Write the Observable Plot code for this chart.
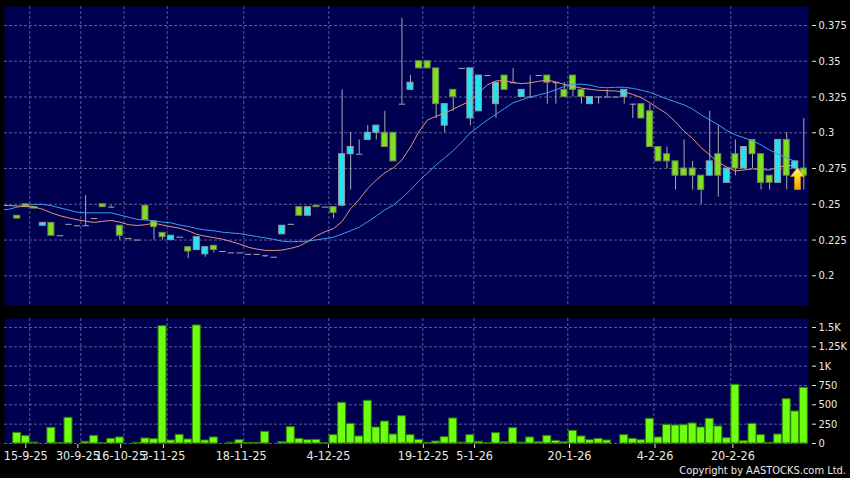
<!DOCTYPE html>
<html><head><meta charset="utf-8">
<script src="https://cdn.jsdelivr.net/npm/d3@7"></script>
<script src="https://cdn.jsdelivr.net/npm/@observablehq/plot@0.6"></script>
<style>
html,body{margin:0;padding:0;background:#000;}
#chart{width:850px;height:478px;position:relative;background:#000;overflow:hidden}
#chart svg{display:block}
#copy{position:absolute;right:4px;top:464px;color:#e8e8e8;font:11px "DejaVu Sans Condensed","DejaVu Sans",sans-serif;white-space:nowrap}
</style></head><body><div id="chart"></div>
<script>
// ---- data (one entry per trading bar) ----
const open  = [0.242,0.250,0.248,0.235,0.237,0.228,0.236,0.235,0.235,0.240,0.250,0.248,0.235,0.226,0.225,0.249,0.238,0.230,0.225,0.227,0.220,0.218,0.215,0.221,0.217,0.216,0.216,0.215,0.215,0.214,0.213,0.229,0.236,0.248,0.242,0.249,0.248,0.248,0.249,0.285,0.285,0.295,0.300,0.300,0.300,0.320,0.330,0.350,0.350,0.345,0.305,0.330,0.345,0.310,0.315,0.340,0.320,0.340,0.335,0.325,0.325,0.340,0.340,0.335,0.330,0.340,0.330,0.320,0.325,0.325,0.325,0.325,0.320,0.320,0.315,0.290,0.285,0.280,0.275,0.275,0.270,0.270,0.285,0.265,0.285,0.275,0.295,0.285,0.270,0.265,0.295,0.275,0.275];
const high  = [0.242,0.250,0.248,0.237,0.237,0.228,0.236,0.235,0.256,0.240,0.250,0.249,0.235,0.226,0.225,0.249,0.238,0.230,0.228,0.227,0.220,0.227,0.220,0.221,0.217,0.216,0.216,0.215,0.215,0.214,0.213,0.235,0.236,0.248,0.248,0.249,0.248,0.248,0.330,0.300,0.295,0.305,0.305,0.315,0.300,0.380,0.340,0.350,0.350,0.345,0.320,0.330,0.345,0.345,0.340,0.340,0.335,0.340,0.345,0.330,0.340,0.340,0.340,0.335,0.335,0.340,0.330,0.325,0.325,0.330,0.325,0.330,0.320,0.320,0.320,0.290,0.290,0.280,0.295,0.280,0.270,0.315,0.305,0.275,0.295,0.290,0.295,0.285,0.270,0.295,0.300,0.280,0.310];
const low   = [0.240,0.248,0.247,0.235,0.228,0.228,0.236,0.235,0.235,0.240,0.248,0.248,0.225,0.226,0.225,0.239,0.225,0.225,0.225,0.227,0.212,0.218,0.213,0.216,0.217,0.216,0.216,0.215,0.215,0.213,0.213,0.229,0.236,0.242,0.242,0.248,0.248,0.240,0.249,0.260,0.285,0.295,0.295,0.290,0.280,0.320,0.330,0.345,0.345,0.310,0.300,0.315,0.345,0.305,0.315,0.340,0.310,0.330,0.335,0.325,0.325,0.340,0.320,0.320,0.325,0.325,0.320,0.320,0.320,0.325,0.325,0.320,0.310,0.310,0.290,0.280,0.275,0.260,0.270,0.260,0.250,0.270,0.255,0.265,0.270,0.275,0.275,0.260,0.260,0.265,0.260,0.275,0.260];
const close = [0.240,0.248,0.247,0.237,0.228,0.228,0.236,0.235,0.235,0.240,0.248,0.248,0.228,0.226,0.225,0.239,0.234,0.227,0.228,0.227,0.217,0.227,0.220,0.218,0.217,0.216,0.216,0.215,0.215,0.214,0.213,0.235,0.236,0.242,0.248,0.248,0.248,0.244,0.285,0.290,0.285,0.300,0.305,0.290,0.280,0.320,0.335,0.345,0.345,0.320,0.320,0.325,0.345,0.345,0.340,0.340,0.335,0.330,0.335,0.330,0.325,0.340,0.335,0.335,0.325,0.330,0.325,0.325,0.325,0.325,0.325,0.330,0.320,0.310,0.290,0.280,0.280,0.270,0.270,0.270,0.260,0.280,0.270,0.275,0.275,0.290,0.285,0.265,0.265,0.295,0.270,0.280,0.270];
const volume = [138,95,13,0,203,4,332,0,22,99,4,60,78,0,8,65,56,1517,39,112,52,1526,39,78,0,10,43,8,8,151,0,18,211,60,43,47,4,108,526,254,91,552,207,284,116,353,108,47,10,26,82,323,13,108,22,4,134,17,198,13,78,17,99,34,17,164,91,43,60,39,0,108,60,43,319,78,241,233,237,259,207,319,220,69,759,30,254,108,9,116,573,414,720];
// moving averages, first value belongs to bar -2 (before the visible window)
const maFirstBar = -2;
const maShort = [0.2493,0.2491,0.2488,0.2485,0.2481,0.2465,0.2440,0.2420,0.2405,0.2392,0.2382,0.2373,0.2381,0.2387,0.2375,0.2358,0.2352,0.2357,0.2368,0.2355,0.2343,0.2333,0.2315,0.2290,0.2277,0.2267,0.2256,0.2240,0.2222,0.2200,0.2187,0.2178,0.2177,0.2180,0.2192,0.2208,0.2240,0.2280,0.2308,0.2330,0.2380,0.2469,0.2535,0.2610,0.2670,0.2720,0.2755,0.2810,0.2900,0.3010,0.3090,0.3115,0.3138,0.3165,0.3195,0.3222,0.3280,0.3335,0.3363,0.3365,0.3350,0.3344,0.3349,0.3360,0.3369,0.3355,0.3338,0.3325,0.3312,0.3304,0.3297,0.3294,0.3292,0.3285,0.3268,0.3245,0.3210,0.3170,0.3133,0.3075,0.3010,0.2960,0.2895,0.2845,0.2793,0.2760,0.2733,0.2740,0.2748,0.2742,0.2740,0.2760,0.2771,0.2771];
const maLong = [0.246,0.2465,0.248,0.249,0.250,0.250,0.249,0.2475,0.246,0.2445,0.244,0.244,0.244,0.244,0.2425,0.241,0.2395,0.239,0.2385,0.2375,0.237,0.2355,0.2345,0.233,0.232,0.2315,0.2305,0.230,0.2295,0.2285,0.2275,0.2265,0.2255,0.2242,0.2238,0.224,0.2242,0.2252,0.226,0.227,0.2292,0.2315,0.234,0.2378,0.2418,0.2461,0.2494,0.2545,0.260,0.2665,0.272,0.2775,0.2825,0.2875,0.2935,0.300,0.3045,0.309,0.313,0.317,0.321,0.323,0.325,0.3265,0.328,0.330,0.3325,0.3338,0.334,0.3333,0.3318,0.3315,0.3318,0.3318,0.331,0.3298,0.3282,0.326,0.3237,0.3215,0.3195,0.3165,0.3125,0.309,0.3055,0.3015,0.2985,0.2965,0.2945,0.2915,0.288,0.285,0.2825,0.280];
// date axis (bar index of each label) and vertical grid lines
const dateLabels = ["15-9-25","30-9-25","16-10-25","3-11-25","18-11-25","4-12-25","19-12-25","5-1-26","20-1-26","4-2-26","20-2-26"];
const dateTickBar = [1.0,7.1,12.1,17.1,26.2,36.4,47.5,53.5,64.6,74.6,83.7];
const dateGridBar = [1.47,7.44,12.5,17.54,26.5,36.45,47.44,53.4,64.4,74.46,83.46];
const priceTicks = [0.2,0.225,0.25,0.275,0.3,0.325,0.35,0.375];
const volumeTicks = [0,250,500,750,1000,1250,1500];
const lastSignal = {bar: 91.26, price: 0.268};

// ---- styles ----
const NAVY = "#000050", GRID = "#5c5c92", GREEN = "#80e020", CYAN = "#20e4f2",
      WICK = "#a8a8b4", BLUE = "#3c9ee8", ORANGE = "#e0967a", VOLG = "#6cff10",
      TXT = "#e8e8e8";
const FONT = '"DejaVu Sans Condensed","DejaVu Sans",sans-serif';
const W = 850, ML = 4, MR = 42;
const xDomain = [-1.485, 92.55];
const dash = {stroke: GRID, strokeDasharray: "3,2", strokeWidth: 1};

const bars = open.map((o, i) => ({i, o, h: high[i], l: low[i], c: close[i], v: volume[i]}));
const bodies = bars.filter(d => d.o !== d.c);
const dojis = bars.filter(d => d.o === d.c);
const wicks = bars.filter(d => d.h > d.l);
const maS = maShort.map((p, k) => ({i: k + maFirstBar, p}));
const maL = maLong.map((p, k) => ({i: k + maFirstBar, p}));

const arrowSymbol = {draw(ctx) {
  ctx.moveTo(0, -11); ctx.lineTo(7, -2); ctx.lineTo(3, -2); ctx.lineTo(3, 11);
  ctx.lineTo(-3, 11); ctx.lineTo(-3, -2); ctx.lineTo(-7, -2); ctx.closePath();
}};

const priceChart = Plot.plot({
  width: W, height: 310, marginTop: 6, marginBottom: 5, marginLeft: ML, marginRight: MR,
  style: {background: "transparent", color: TXT, fontFamily: FONT, fontSize: "11px", overflow: "visible"},
  x: {type: "linear", domain: xDomain, axis: null},
  y: {domain: [0.17924, 0.38828], axis: null},
  marks: [
    Plot.frame({fill: NAVY, stroke: null}),
    Plot.ruleY(priceTicks, dash),
    Plot.ruleX(dateGridBar, dash),
    Plot.axisY(priceTicks, {anchor: "right", label: null, tickSize: 4, tickPadding: 3, dx: 3, stroke: TXT, fill: TXT, fontSize: 11, tickFormat: d => String(d)}),
    Plot.ruleX(wicks, {x: "i", y1: "l", y2: "h", stroke: WICK, strokeWidth: 1}),
    Plot.rect(bodies, {x1: d => d.i - 0.35, x2: d => d.i + 0.35, y1: "o", y2: "c", fill: d => d.c > d.o ? CYAN : GREEN, stroke: d => d.c > d.o ? "#9a9aa8" : "#6f8a50", strokeWidth: 1}),
    Plot.link(dojis, {x1: d => d.i - 0.37, x2: d => d.i + 0.37, y1: "o", y2: "o", stroke: WICK, strokeWidth: 1}),
    Plot.line(maL, {x: "i", y: "p", stroke: BLUE, strokeWidth: 1, clip: true}),
    Plot.line(maS, {x: "i", y: "p", stroke: ORANGE, strokeWidth: 1, clip: true}),
    Plot.dot([lastSignal], {x: "bar", y: "price", symbol: arrowSymbol, r: 10, fill: "url(#arrowGrad)", stroke: "#d08a00", strokeWidth: 0.8})
  ]
});

const defs = d3.select(priceChart).insert("defs", ":first-child");
const grad = defs.append("linearGradient").attr("id", "arrowGrad").attr("x1", 0).attr("y1", 0).attr("x2", 0).attr("y2", 1);
grad.append("stop").attr("offset", "0%").attr("stop-color", "#fff5a0");
grad.append("stop").attr("offset", "40%").attr("stop-color", "#ffd824");
grad.append("stop").attr("offset", "100%").attr("stop-color", "#f0a000");

const labelOf = new Map(dateTickBar.map((t, k) => [t, dateLabels[k]]));

const volChart = Plot.plot({
  width: W, height: 168, marginTop: 8, marginBottom: 35, marginLeft: ML, marginRight: MR,
  style: {background: "transparent", color: TXT, fontFamily: FONT, fontSize: "11px", overflow: "visible"},
  x: {type: "linear", domain: xDomain, axis: null},
  y: {domain: [0, 1616], axis: null},
  marks: [
    Plot.frame({fill: NAVY, stroke: null}),
    Plot.ruleY(volumeTicks, dash),
    Plot.ruleX(dateGridBar, dash),
    Plot.rect(bars.filter(d => d.v > 0), {x1: d => d.i - 0.47, x2: d => d.i + 0.47, y1: 0, y2: "v", fill: VOLG, stroke: "#2f7a00", strokeWidth: 1}),
    Plot.axisY(volumeTicks, {anchor: "right", label: null, tickSize: 4, tickPadding: 3, dx: 3, stroke: TXT, fill: TXT, fontSize: 11, tickFormat: d => d >= 1000 ? (d / 1000) + "K" : String(d)}),
    Plot.axisX(dateTickBar, {anchor: "bottom", label: null, tickSize: 4, tickPadding: 3, dy: 1, stroke: TXT, fill: TXT, fontSize: 12.5, tickFormat: d => labelOf.get(d)})
  ]
});

const chart = document.getElementById("chart");
chart.append(priceChart, volChart);
const copy = document.createElement("div");
copy.id = "copy";
copy.textContent = "Copyright by AASTOCKS.com Ltd.";
chart.append(copy);
</script></body></html>
